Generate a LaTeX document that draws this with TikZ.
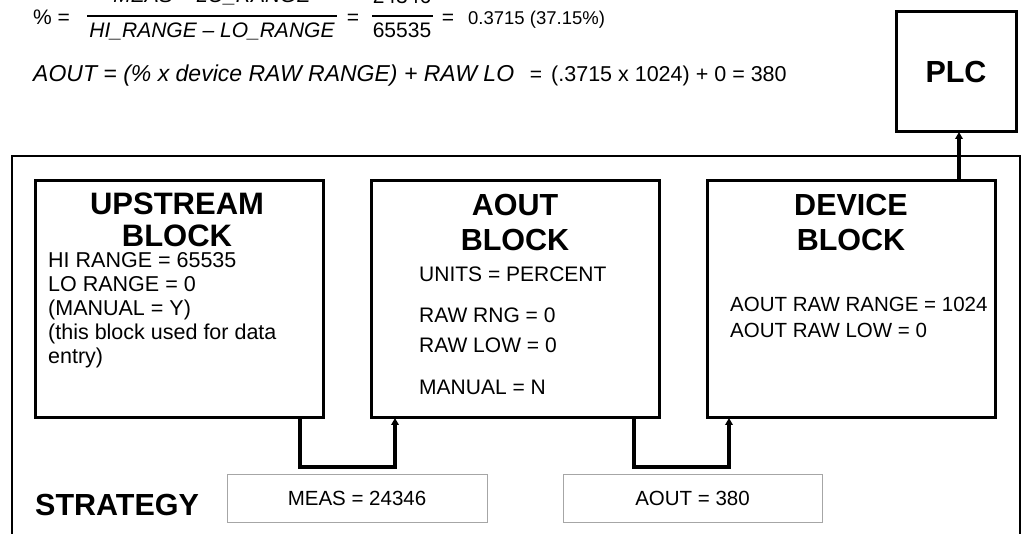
\documentclass[tikz,border=0pt]{standalone}
\usepackage{fontspec}
\setmainfont{Liberation Sans}
\usetikzlibrary{arrows.meta}

\begin{document}
\begin{tikzpicture}[x=1pt, y=-1pt, >={Triangle[length=7pt,width=7.5pt]},
        block/.style={draw, line width=3pt, outer sep=0pt, minimum width=288pt,
            minimum height=237pt, anchor=north west},
        title/.style={font=\fontsize{30.5}{36}\selectfont\bfseries, inner sep=0pt, anchor=base},
        body/.style={font=\fontsize{21}{25}\selectfont, inner sep=0pt, anchor=base west},
        formula/.style={font=\fontsize{21}{26}\selectfont\itshape, inner sep=0pt, anchor=base},
        plain/.style={font=\fontsize{21}{26}\selectfont, inner sep=0pt, anchor=base},
        valbox/.style={draw=gray!70, line width=0.8pt, outer sep=0pt, minimum height=48pt,
            anchor=north west, font=\fontsize{20.5}{24}\selectfont},
        link/.style={->, line width=3.5pt}]

        \useasboundingbox (0,0) rectangle (1026,534);

        % --- Formulas ---
        \node[plain, anchor=base west] (pct) at (33,25) {\% =};
        \node[formula] (num) at (212,3) {MEAS – LO\_RANGE};
        \node[formula] (den) at (212,38) {HI\_RANGE – LO\_RANGE};
        \draw[line width=1.2pt] (87,16) -- (337,16);
        \node[plain] (eq1) at (353,25) {=};
        \node[plain] (meas) at (402,4) {24346};
        \node[plain] (hirng) at (402,38) {65535};
        \draw[line width=1.2pt] (372,16) -- (433,16);
        \node[plain] (eq2) at (448,25) {=};
        \node[plain, anchor=base west, font=\fontsize{18.5}{22}\selectfont] (pctval) at (468,25) {0.3715 (37.15\%)};

        \node[formula, anchor=base west, font=\fontsize{23}{27}\selectfont\itshape] (aoutf) at (33,82)
            {AOUT = (\% x device RAW RANGE) + RAW LO};
        \node[plain] (eq3) at (536,82) {=};
        \node[plain, anchor=base west, font=\fontsize{21.5}{26}\selectfont] (aoutval) at (551,82)
            {(.3715 x 1024) + 0 = 380};

        % --- Strategy frame ---
        \draw[line width=2pt] (12,537) -- (12,156) -- (1020,156) -- (1020,537);
        \node[title, anchor=base west] (strat) at (35,515) {STRATEGY};

        % --- PLC ---
        \node[draw, line width=3pt, outer sep=0pt, minimum width=120pt, minimum height=120pt,
            anchor=north west, font=\fontsize{30.5}{36}\selectfont\bfseries] (plc) at (896,12) {PLC};

        % --- Blocks ---
        \node[block] (up)   at (35,181)  {};
        \node[block] (aout) at (371,181) {};
        \node[block] (dev)  at (707,181) {};

        \node[title, font=\fontsize{31}{36}\selectfont\bfseries] at (177,215) {UPSTREAM};
        \node[title, font=\fontsize{31}{36}\selectfont\bfseries] at (177,247) {BLOCK};
        \foreach \y/\txt in {268/{HI RANGE = 65535}, 292/{LO RANGE = 0}, 316/{(MANUAL = Y)},
                340/{(this block used for data}, 364/{entry)}}
            \node[body, font=\fontsize{21.5}{26}\selectfont] at (48,\y) {\txt};

        \node[title] at (515,216) {AOUT};
        \node[title] at (515,251) {BLOCK};
        \foreach \y/\txt in {282/{UNITS = PERCENT}, 323/{RAW RNG = 0}, 353/{RAW LOW = 0},
                395/{MANUAL = N}}
            \node[body] at (419,\y) {\txt};

        \node[title] at (851,216) {DEVICE};
        \node[title] at (851,251) {BLOCK};
        \foreach \y/\txt in {312/{AOUT RAW RANGE = 1024}, 338/{AOUT RAW LOW = 0}}
            \node[body, font=\fontsize{20.5}{24}\selectfont] at (730,\y) {\txt};

        % --- Values ---
        \node[valbox, minimum width=260pt] (measv) at (227,474) {MEAS = 24346};
        \node[valbox, minimum width=259pt] (aoutv) at (563,474) {AOUT = 380};

        % --- Links ---
        \draw[link] ([xshift=-23pt]up.south east) -- ++(0,49) -| ([xshift=24pt]aout.south west);
        \draw[link] ([xshift=-25pt]aout.south east) -- ++(0,49) -| ([xshift=22pt]dev.south west);
        \coordinate (d0) at ([xshift=-36pt]dev.north east);
        \draw[link] (d0) -- (d0 |- plc.south);

    \end{tikzpicture}
\end{document}
